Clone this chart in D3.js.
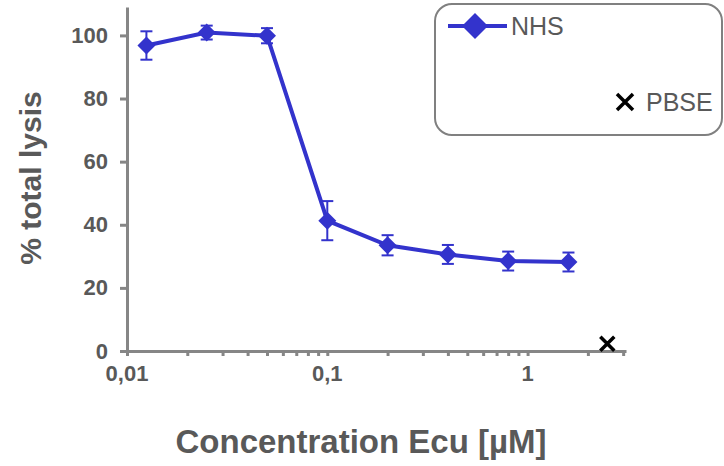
<!DOCTYPE html>
<html>
<head>
<meta charset="utf-8">
<script src="https://cdn.jsdelivr.net/npm/d3@7"></script>
<style>
  body { margin: 0; background: #fff; }
  svg text { font-family: "Liberation Sans", Arial, sans-serif; }
</style>
</head>
<body>
<div id="chart"></div>
<script>
// data
const conc = [0.0125, 0.025, 0.05, 0.1, 0.2, 0.4, 0.8, 1.6];
const lysis = [96.8, 100.9, 99.9, 41.3, 33.5, 30.6, 28.5, 28.2];
const lysisErr = [4.5, 2.2, 2.4, 6.2, 3.2, 3.0, 3.0, 3.0];
const pbseConc = [2.5];
const pbseLysis = [2.3];
const yTicks = [0, 20, 40, 60, 80, 100];
const xTicks = [0.01, 0.1, 1];
const xTickLabels = ["0,01", "0,1", "1"];

const W = 724, H = 466;
const blue = "#3333cc", axisGrey = "#868686", textGrey = "#595959";

const svg = d3.select("#chart").append("svg")
  .attr("width", W).attr("height", H);

const x = d3.scaleLog().domain([0.01, 3.1]).range([127, 626]);
const y = d3.scaleLinear().domain([0, 109]).range([351, 7]);

// y axis
const yAxis = svg.append("g")
  .attr("transform", "translate(127,0)")
  .call(d3.axisLeft(y).tickValues(yTicks).tickSize(7).tickPadding(12).tickSizeOuter(0));
yAxis.select(".domain").attr("stroke", axisGrey).attr("stroke-width", 3);
yAxis.selectAll(".tick line").attr("stroke", axisGrey).attr("stroke-width", 3);
yAxis.selectAll(".tick text")
  .attr("fill", textGrey).style("font-size", "22px").style("font-weight", "bold");

// x axis: minor ticks for every 1..9 in each decade
const minor = [];
[0.01, 0.1, 1].forEach(function(d) {
  for (let i = 1; i <= 9; i++) { if (d * i <= 3.1) minor.push(d * i); }
});
const xAxis = svg.append("g")
  .attr("transform", "translate(0,351)")
  .call(d3.axisBottom(x).tickValues(minor).tickSize(5).tickFormat("").tickSizeOuter(0));
xAxis.select(".domain").attr("stroke", axisGrey).attr("stroke-width", 3);
xAxis.selectAll(".tick line").attr("stroke", axisGrey).attr("stroke-width", 3);

svg.append("g").selectAll("text")
  .data(xTicks)
  .join("text")
  .attr("x", function(d) { return x(d); })
  .attr("y", 381)
  .attr("text-anchor", "middle")
  .attr("fill", textGrey)
  .style("font-size", "22px").style("font-weight", "bold")
  .text(function(d, i) { return xTickLabels[i]; });

// axis titles
svg.append("text")
  .attr("x", 361).attr("y", 453)
  .attr("text-anchor", "middle")
  .attr("fill", textGrey)
  .style("font-size", "33px").style("font-weight", "bold")
  .text("Concentration Ecu [µM]");

svg.append("text")
  .attr("transform", "translate(41,178) rotate(-90)")
  .attr("text-anchor", "middle")
  .attr("fill", textGrey)
  .style("font-size", "30px").style("font-weight", "bold")
  .text("% total lysis");

// error bars
const pts = conc.map(function(c, i) { return {c: c, v: lysis[i], e: lysisErr[i]}; });
const eb = svg.append("g").attr("stroke", blue).attr("stroke-width", 2);
pts.forEach(function(d) {
  eb.append("line").attr("x1", x(d.c)).attr("x2", x(d.c)).attr("y1", y(d.v - d.e)).attr("y2", y(d.v + d.e));
  eb.append("line").attr("x1", x(d.c) - 6).attr("x2", x(d.c) + 6).attr("y1", y(d.v - d.e)).attr("y2", y(d.v - d.e));
  eb.append("line").attr("x1", x(d.c) - 6).attr("x2", x(d.c) + 6).attr("y1", y(d.v + d.e)).attr("y2", y(d.v + d.e));
});

// NHS line
svg.append("path")
  .datum(pts)
  .attr("fill", "none")
  .attr("stroke", blue)
  .attr("stroke-width", 4)
  .attr("d", d3.line().x(function(d) { return x(d.c); }).y(function(d) { return y(d.v); }));

const diamond = function(cx, cy, r) {
  return "M" + cx + "," + (cy - r) + "L" + (cx + r) + "," + cy + "L" + cx + "," + (cy + r) + "L" + (cx - r) + "," + cy + "Z";
};
svg.append("g").selectAll("path")
  .data(pts)
  .join("path")
  .attr("fill", blue)
  .attr("d", function(d) { return diamond(x(d.c), y(d.v), 9); });

// PBSE marker
const cross = function(cx, cy, r) {
  return "M" + (cx - r) + "," + (cy - r) + "L" + (cx + r) + "," + (cy + r) + "M" + (cx - r) + "," + (cy + r) + "L" + (cx + r) + "," + (cy - r);
};
svg.append("g").selectAll("path")
  .data(pbseConc)
  .join("path")
  .attr("stroke", "#000").attr("stroke-width", 3.5).attr("fill", "none")
  .attr("d", function(d, i) { return cross(x(d), y(pbseLysis[i]), 7); });

// legend
const lg = svg.append("g");
lg.append("rect")
  .attr("x", 435).attr("y", 4).attr("width", 287).attr("height", 131)
  .attr("rx", 17).attr("fill", "#fff").attr("stroke", "#808080").attr("stroke-width", 2);
lg.append("line").attr("x1", 448).attr("x2", 507).attr("y1", 26).attr("y2", 26)
  .attr("stroke", blue).attr("stroke-width", 4);
lg.append("path").attr("fill", blue).attr("d", diamond(475, 26, 13));
lg.append("text").attr("x", 511).attr("y", 35)
  .attr("fill", textGrey).style("font-size", "25px").text("NHS");
lg.append("path").attr("stroke", "#000").attr("stroke-width", 3.5).attr("fill", "none")
  .attr("d", cross(625, 102, 8));
lg.append("text").attr("x", 646).attr("y", 111)
  .attr("fill", textGrey).style("font-size", "25px").text("PBSE");
</script>
</body>
</html>
